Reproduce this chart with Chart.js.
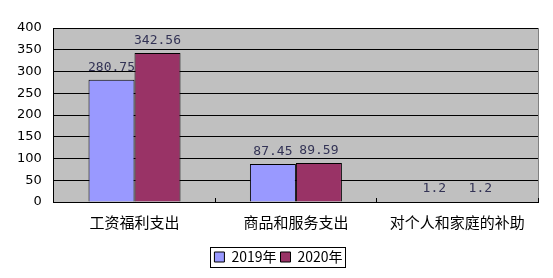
<!DOCTYPE html>
<html>
<head>
<meta charset="utf-8">
<script src="https://cdn.jsdelivr.net/npm/chart.js@4"></script>
<style>
  html, body { margin: 0; padding: 0; background: #fff; }
  #wrap { width: 553px; height: 278px; }
</style>
</head>
<body>
<div id="wrap"><canvas id="c" width="553" height="278"></canvas></div>
<script>
const categories = ['工资福利支出', '商品和服务支出', '对个人和家庭的补助'];
const series2019 = [280.75, 87.45, 1.2];
const series2020 = [342.56, 89.59, 1.2];
const seriesNames = ['2019年', '2020年'];
const yTicks = [0, 50, 100, 150, 200, 250, 300, 350, 400];

const cjk = '"Noto Sans CJK SC", sans-serif';

// grey plot background + frame
const plotBg = {
    id: 'plotBg',
    beforeDraw(chart) {
        const a = chart.chartArea, ctx = chart.ctx;
        ctx.save();
        ctx.fillStyle = '#c0c0c0';
        ctx.fillRect(a.left, a.top, a.right - a.left, a.bottom - a.top);
        ctx.strokeStyle = '#808080';
        ctx.lineWidth = 1;
        ctx.beginPath();
        ctx.moveTo(a.right + 0.5, a.top);
        ctx.lineTo(a.right + 0.5, a.bottom);
        ctx.stroke();
        ctx.restore();
    }
};

// value labels above the bars
const valueLabels = {
    id: 'valueLabels',
    afterDatasetsDraw(chart) {
        const ctx = chart.ctx;
        ctx.save();
        ctx.font = '13px "DejaVu Sans Mono", monospace';
        ctx.fillStyle = '#333355';
        ctx.textAlign = 'center';
        ctx.textBaseline = 'bottom';
        chart.data.datasets.forEach((ds, i) => {
            chart.getDatasetMeta(i).data.forEach((bar, j) => {
                ctx.fillText(String(ds.data[j]), bar.x, bar.y - 6);
            });
        });
        ctx.restore();
    }
};

// nudge the legend a bit right, then box it
const legendBox = {
    id: 'legendBox',
    afterLayout(chart) {
        const l = chart.legend;
        if (l) { l.left += 7; l.right += 7; }
    },
    afterDraw(chart) {
        const l = chart.legend, ctx = chart.ctx;
        if (!l || !l.legendHitBoxes.length) return;
        const boxes = l.legendHitBoxes;
        const x0 = boxes[0].left - 4;
        const x1 = boxes[boxes.length - 1].left + boxes[boxes.length - 1].width + 3;
        const y0 = boxes[0].top - 3;
        const y1 = boxes[0].top + boxes[0].height + 3;
        ctx.save();
        ctx.strokeStyle = '#000';
        ctx.lineWidth = 1;
        ctx.strokeRect(Math.round(x0) + 0.5, Math.round(y0) + 0.5, Math.round(x1 - x0), Math.round(y1 - y0));
        ctx.restore();
    }
};

new Chart(document.getElementById('c').getContext('2d'), {
    type: 'bar',
    data: {
        labels: categories,
        datasets: [
            { label: seriesNames[0], data: series2019, backgroundColor: '#9999ff', borderColor: '#000', borderWidth: 1 },
            { label: seriesNames[1], data: series2020, backgroundColor: '#993366', borderColor: '#000', borderWidth: 1 }
        ]
    },
    options: {
        responsive: false,
        animation: false,
        devicePixelRatio: 1,
        layout: { padding: { left: 5, right: 15, top: 28, bottom: 4 } },
        datasets: { bar: { categoryPercentage: 0.57, barPercentage: 1 } },
        scales: {
            x: {
                grid: { display: true, offset: true, drawOnChartArea: false, color: '#000', tickLength: -4 },
                border: { color: '#000' },
                ticks: { color: '#000', font: { family: cjk, size: 15 }, padding: 15 }
            },
            y: {
                min: 0, max: 400,
                afterBuildTicks(axis) { axis.ticks = yTicks.map(v => ({ value: v })); },
                grid: { color: '#000', tickLength: 0 },
                border: { color: '#000' },
                ticks: { color: '#000', font: { family: '"DejaVu Sans", sans-serif', size: 13 }, padding: 12 }
            }
        },
        plugins: {
            legend: {
                position: 'bottom',
                labels: {
                    color: '#000',
                    font: { family: cjk, size: 14 },
                    boxWidth: 10, boxHeight: 10,
                    padding: 4
                }
            },
            tooltip: { enabled: false }
        }
    },
    plugins: [plotBg, valueLabels, legendBox]
});
</script>
</body>
</html>
